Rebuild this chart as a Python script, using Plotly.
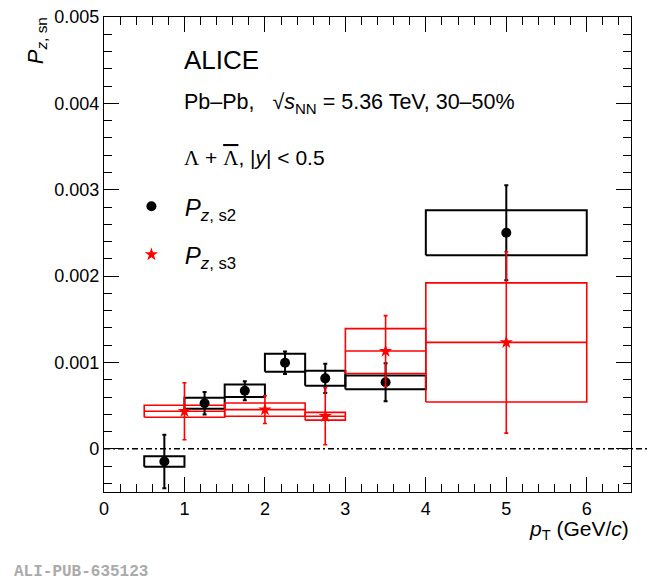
import plotly.graph_objects as go

# P_z,s2 (black): bin centres, bin edges, value, stat and syst errors
s2_x = [0.75, 1.25, 1.75, 2.25, 2.75, 3.5, 5.0]
s2_lo = [0.5, 1.0, 1.5, 2.0, 2.5, 3.0, 4.0]
s2_hi = [1.0, 1.5, 2.0, 2.5, 3.0, 4.0, 6.0]
s2_y = [-0.000147, 0.000528, 0.000673, 0.000997, 0.000816, 0.00077, 0.002502]
s2_stat = [0.00031, 0.00013, 0.00011, 0.00013, 0.00017, 0.00022, 0.00055]
s2_sys = [0.00006, 0.000064, 0.000072, 0.000104, 0.000087, 0.000079, 0.00026]

# P_z,s3 (red)
s3_x = [1.0, 2.0, 2.75, 3.5, 5.0]
s3_lo = [0.5, 1.5, 2.5, 3.0, 4.0]
s3_hi = [1.5, 2.5, 3.0, 4.0, 6.0]
s3_y = [0.000435, 0.000454, 0.000377, 0.001132, 0.001232]
s3_stat = [0.00033, 0.00016, 0.00033, 0.00041, 0.00105]
s3_sys = [0.00007, 0.000077, 0.000045, 0.00026, 0.00069]

y_ticks = [0, 0.001, 0.002, 0.003, 0.004, 0.005]
y_labels = ["0", "0.001", "0.002", "0.003", "0.004", "0.005"]

FONT = "Liberation Sans"


def box_path(lo, hi, y, sys, centre_line=False):
    xs, ys = [], []
    for a, b, v, e in zip(lo, hi, y, sys):
        xs += [a, b, b, a, a, None]
        ys += [v - e, v - e, v + e, v + e, v - e, None]
        if centre_line:
            xs += [a, b, None]
            ys += [v, v, None]
    return xs, ys


fig = go.Figure()

bx, by = box_path(s2_lo, s2_hi, s2_y, s2_sys)
fig.add_trace(go.Scatter(x=bx, y=by, mode="lines", line=dict(color="black", width=2),
                         showlegend=False, hoverinfo="skip"))
rx, ry = box_path(s3_lo, s3_hi, s3_y, s3_sys, centre_line=True)
fig.add_trace(go.Scatter(x=rx, y=ry, mode="lines", line=dict(color="red", width=1.6),
                         showlegend=False, hoverinfo="skip"))

fig.add_trace(go.Scatter(
    x=s2_x, y=s2_y, mode="markers", showlegend=False,
    marker=dict(color="black", size=10, symbol="circle"),
    error_y=dict(type="data", array=s2_stat, color="black", thickness=2, width=2)))
fig.add_trace(go.Scatter(
    x=s3_x, y=s3_y, mode="markers", showlegend=False,
    marker=dict(color="red", size=10, symbol="star"),
    error_y=dict(type="data", array=s3_stat, color="red", thickness=1.6, width=2)))

# legend-only entries
fig.add_trace(go.Scatter(x=[None], y=[None], mode="markers", legendgroup="a",
                         name="\u00a0\u00a0<i>P</i><sub><i>z</i>, s2</sub>",
                         marker=dict(color="black", size=10, symbol="circle")))
fig.add_trace(go.Scatter(x=[None], y=[None], mode="markers", legendgroup="b",
                         name="\u00a0\u00a0<i>P</i><sub><i>z</i>, s3</sub>",
                         marker=dict(color="red", size=10, symbol="star")))

fig.add_shape(type="line", xref="paper", yref="y", x0=0, x1=1.036, y0=0, y1=0,
              line=dict(color="black", width=1.5, dash="6px,3px,2px,3px"))

axis_common = dict(
    showgrid=False, zeroline=False, showline=True, linecolor="black", linewidth=1.2,
    mirror="ticks", ticks="inside", ticklen=15, tickwidth=1.2, tickcolor="black",
    automargin=False,
    tickfont=dict(family=FONT, size=18, color="black"),
)
fig.update_xaxes(range=[0, 6.55], dtick=1, tick0=0,
                 minor=dict(ticks="inside", ticklen=8, dtick=0.2, tickcolor="black", tickwidth=1.2),
                 **axis_common)
fig.update_yaxes(range=[-0.0005, 0.005], tickvals=y_ticks, ticktext=y_labels,
                 minor=dict(ticks="inside", ticklen=8, dtick=0.0002, tickcolor="black", tickwidth=1.2),
                 **axis_common)

NB = "\u00a0"
ann = [
    dict(text="ALICE", x=0.148, y=0.909, size=26),
    dict(text="Pb\u2013Pb," + NB * 3 + "\u221a<i>s</i><sub>NN</sub> = 5.36 TeV, 30\u201350%",
         x=0.148, y=0.817, size=21.5),
    dict(text="<span style='font-family:Liberation Serif'>\u039b</span> + "
              "<span style='font-family:Liberation Serif;text-decoration:overline'>\u039b</span>"
              ", |<i>y</i>| < 0.5",
         x=0.148, y=0.703, size=21),
]
for a in ann:
    fig.add_annotation(text=a["text"], x=a["x"], y=a["y"], xref="paper", yref="paper",
                       xanchor="left", yanchor="middle", showarrow=False,
                       font=dict(family=FONT, size=a["size"], color="black"))

fig.add_annotation(text="<i>P</i><sub><i>z</i>, sn</sub>", x=-0.128, y=0.95, xref="paper", yref="paper",
                   textangle=-90, xanchor="center", yanchor="middle", showarrow=False,
                   font=dict(family=FONT, size=22, color="black"))
fig.add_annotation(text="<i>p</i><sub>T</sub> (GeV/<i>c</i>)", x=1.0, y=-0.081, xref="paper", yref="paper",
                   xanchor="right", yanchor="middle", showarrow=False,
                   font=dict(family=FONT, size=21, color="black"))
fig.add_annotation(text="<b>ALI-PUB-635123</b>", x=(12 - 104) / 527, y=(492 - 572) / 475,
                   xref="paper", yref="paper", xanchor="left", yanchor="middle",
                   showarrow=False, font=dict(family="Liberation Mono", size=16, color="#aaaaaa"))

fig.update_layout(
    width=650, height=582,
    margin=dict(l=104, r=19, t=17, b=90),
    plot_bgcolor="white", paper_bgcolor="white",
    legend=dict(x=0.052, y=0.648, xanchor="left", yanchor="top", bgcolor="rgba(0,0,0,0)",
                font=dict(family=FONT, size=24, color="black"), tracegroupgap=14),
)

fig.write_html("out.html", config={"displayModeBar": False},
               post_script="document.body.style.margin='0px';")
